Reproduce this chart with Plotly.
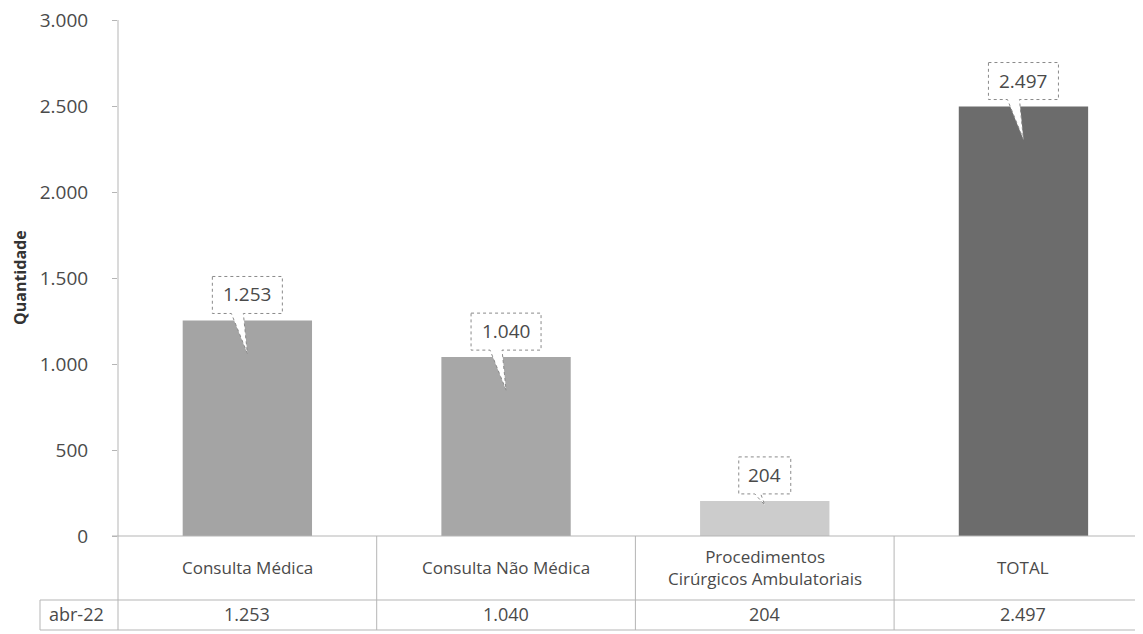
import plotly.graph_objects as go

# ---- data ----
categories = ["Consulta Médica", "Consulta Não Médica",
              "Procedimentos<br>Cirúrgicos Ambulatoriais", "TOTAL"]
series_name = "abr-22"
values = [1253, 1040, 204, 2497]
y_tickvals = [0, 500, 1000, 1500, 2000, 2500, 3000]
y_ticktext = ["0", "500", "1.000", "1.500", "2.000", "2.500", "3.000"]
y_title = "Quantidade"

# ---- style ----
bar_colors = ["#a4a4a4", "#a7a7a7", "#cccccc", "#6c6c6c"]
tip_depth = [33, 33, 4, 33]          # pixels the callout pointer reaches into the bar
FONT = "Open Sans"
TXT = "#4a4a4a"
LINE = "#b5b5b5"

OFF = 8                               # page body margin
W, H = 1143 - OFF, 634 - OFF
ML, MR, MT, MB = 118 - OFF, 0, 20 - OFF, 98
xmin = -0.5
xmax = -0.5 + (W - ML - MR) / 258.7
plot_h = H - MT - MB


def fmt(v):
    return f"{v:,}".replace(",", ".")


def px_to_paper_y(py):
    # py: pixel y in the final screenshot
    return (H + OFF - MB - py) / plot_h


def px_to_paper_x(px):
    return (px - OFF - ML) / (W - ML - MR)


def data_to_paper_x(x):
    return (x - xmin) / (xmax - xmin)


xs = list(range(len(categories)))

fig = go.Figure()
fig.add_trace(go.Bar(
    x=xs, y=values, width=0.5, name=series_name,
    marker=dict(color=bar_colors, line=dict(width=0)),
    showlegend=False, hoverinfo="skip",
))

shapes = []
annotations = []

# callouts
for i, v in enumerate(values):
    txt = fmt(v)
    half = 35 if len(txt) > 3 else 26
    d = tip_depth[i]
    bl = -16 if d > 10 else -10
    path = (f"M {-half},44 L {half},44 L {half},7 L -4,7 "
            f"L 0,{-d} L {bl},7 L {-half},7 Z")
    shapes.append(dict(
        type="path", path=path, xref="x", yref="y",
        xsizemode="pixel", ysizemode="pixel", xanchor=i, yanchor=v,
        fillcolor="white", line=dict(color="#8a8a8a", width=1, dash="dot"),
        layer="above",
    ))
    annotations.append(dict(
        x=i, y=v, xref="x", yref="y", text=txt, showarrow=False,
        xanchor="center", yanchor="middle",
        yshift=26, font=dict(family=FONT, size=19, color=TXT),
    ))

# table geometry (paper coords)
y_top = 0
y_mid = px_to_paper_y(600)
y_bot = px_to_paper_y(630)
x_left_cell = px_to_paper_x(40)
x_right = 1.0

# axis line extended through table
shapes.append(dict(type="line", xref="paper", yref="paper", x0=0, x1=0,
                   y0=y_bot, y1=1, line=dict(color=LINE, width=1)))
# baseline / top of table
shapes.append(dict(type="line", xref="paper", yref="paper", x0=px_to_paper_x(112),
                   x1=x_right, y0=y_top, y1=y_top, line=dict(color=LINE, width=1)))
# middle row line and bottom line
for yy in (y_mid, y_bot):
    shapes.append(dict(type="line", xref="paper", yref="paper", x0=x_left_cell,
                       x1=x_right, y0=yy, y1=yy, line=dict(color=LINE, width=1)))
# left edge of series-name cell
shapes.append(dict(type="line", xref="paper", yref="paper", x0=x_left_cell,
                   x1=x_left_cell, y0=y_bot, y1=y_mid, line=dict(color=LINE, width=1)))
# column dividers
for i in range(len(categories) - 1):
    xp = data_to_paper_x(i + 0.5)
    shapes.append(dict(type="line", xref="paper", yref="paper", x0=xp, x1=xp,
                       y0=y_bot, y1=y_top, line=dict(color=LINE, width=1)))

# category labels and values in the table
row1_y = px_to_paper_y(567)
row2_y = px_to_paper_y(614)
for i, (c, v) in enumerate(zip(categories, values)):
    annotations.append(dict(x=data_to_paper_x(i), y=row1_y, xref="paper", yref="paper",
                            text=c, showarrow=False, xanchor="center", yanchor="middle",
                            font=dict(family=FONT, size=17, color=TXT)))
    annotations.append(dict(x=data_to_paper_x(i), y=row2_y, xref="paper", yref="paper",
                            text=fmt(v), showarrow=False, xanchor="center", yanchor="middle",
                            font=dict(family=FONT, size=18, color=TXT)))
annotations.append(dict(x=px_to_paper_x(76), y=row2_y, xref="paper", yref="paper",
                        text=series_name, showarrow=False, xanchor="center", yanchor="middle",
                        font=dict(family=FONT, size=18, color=TXT)))
# y title
annotations.append(dict(x=px_to_paper_x(20), y=0.5, xref="paper", yref="paper",
                        text=f"<b>{y_title}</b>", showarrow=False, textangle=-90,
                        xanchor="center", yanchor="middle",
                        font=dict(family=FONT, size=16, color="#333333")))

fig.update_layout(
    width=W, height=H,
    margin=dict(l=ML, r=MR, t=MT, b=MB, pad=0, autoexpand=False),
    paper_bgcolor="white", plot_bgcolor="white",
    xaxis=dict(range=[xmin, xmax], showticklabels=False, showgrid=False,
               zeroline=False, showline=False, fixedrange=True, automargin=False),
    yaxis=dict(range=[0, 3000], tickvals=y_tickvals, ticktext=y_ticktext,
               showgrid=False, zeroline=False, showline=False,
               ticks="outside", ticklen=5, tickcolor=LINE, automargin=False,
               ticklabelstandoff=20, ticklabeloverflow="allow",
               tickfont=dict(family=FONT, size=19, color=TXT), fixedrange=True),
    shapes=shapes, annotations=annotations,
    bargap=0.5, showlegend=False,
)

fig.write_html("out.html")
